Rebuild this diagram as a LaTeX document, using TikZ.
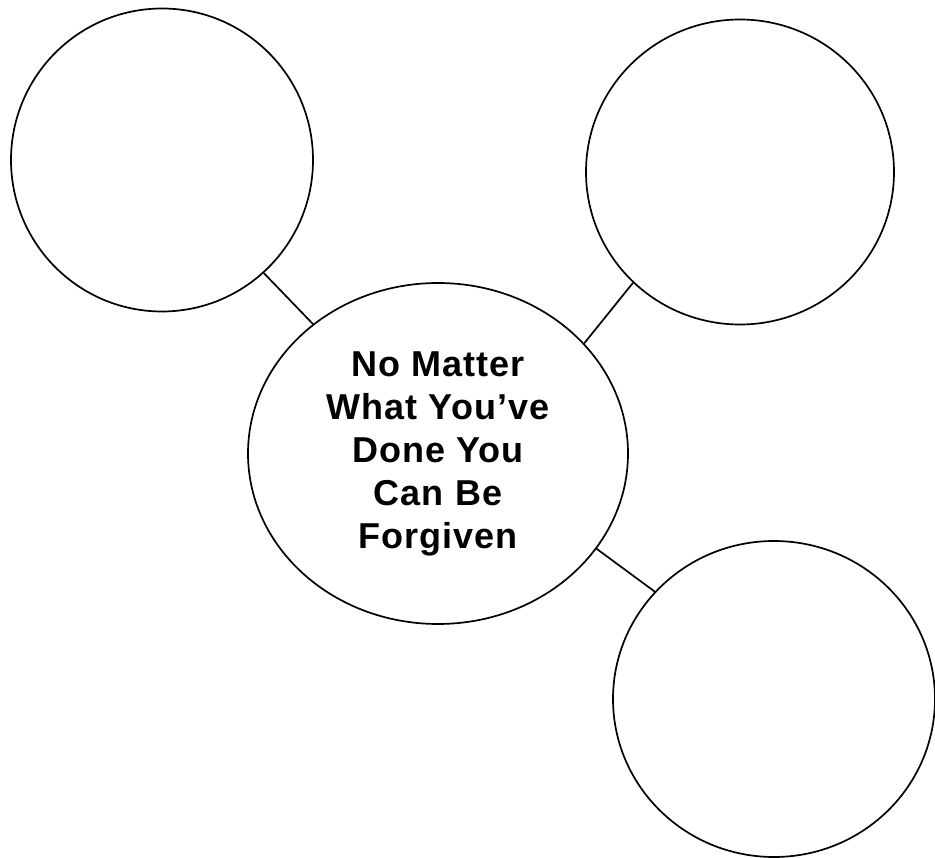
\documentclass[tikz,border=0pt]{standalone}
\usepackage{fontspec}
\setsansfont[LetterSpace=3]{Liberation Sans}
\usetikzlibrary{shapes.geometric}

\begin{document}
\begin{tikzpicture}[
    x=1pt, y=-1pt,
    every node/.style={font=\sffamily\bfseries},
    bubble/.style={draw=black, line width=1.7pt, ellipse, inner sep=0pt},
    link/.style={draw=black, line width=1.7pt},
    hubtext/.style={align=center, font=\sffamily\bfseries\fontsize{36}{43}\selectfont},
]
\useasboundingbox (0,0) rectangle (935,858);

% the main idea in the middle
\node[bubble, hubtext, minimum width=380pt, minimum height=341pt] (hub) at (438,453.5)
    {No Matter\\What You’ve\\Done You\\Can Be\\Forgiven};

% empty bubbles round it
\node[bubble, minimum width=302pt, minimum height=303pt] (topleft) at (162,160) {};
\node[bubble, minimum width=308pt, minimum height=305pt] (topright) at (740,172) {};
\node[bubble, minimum width=322pt, minimum height=316pt] (lowright) at (774,699) {};

% spokes
\draw[link] (topleft.-48) -- (hub.134);
\draw[link] (topright.226) -- (hub.37);
\draw[link] (lowright.138) -- (hub.-31);
\end{tikzpicture}
\end{document}
